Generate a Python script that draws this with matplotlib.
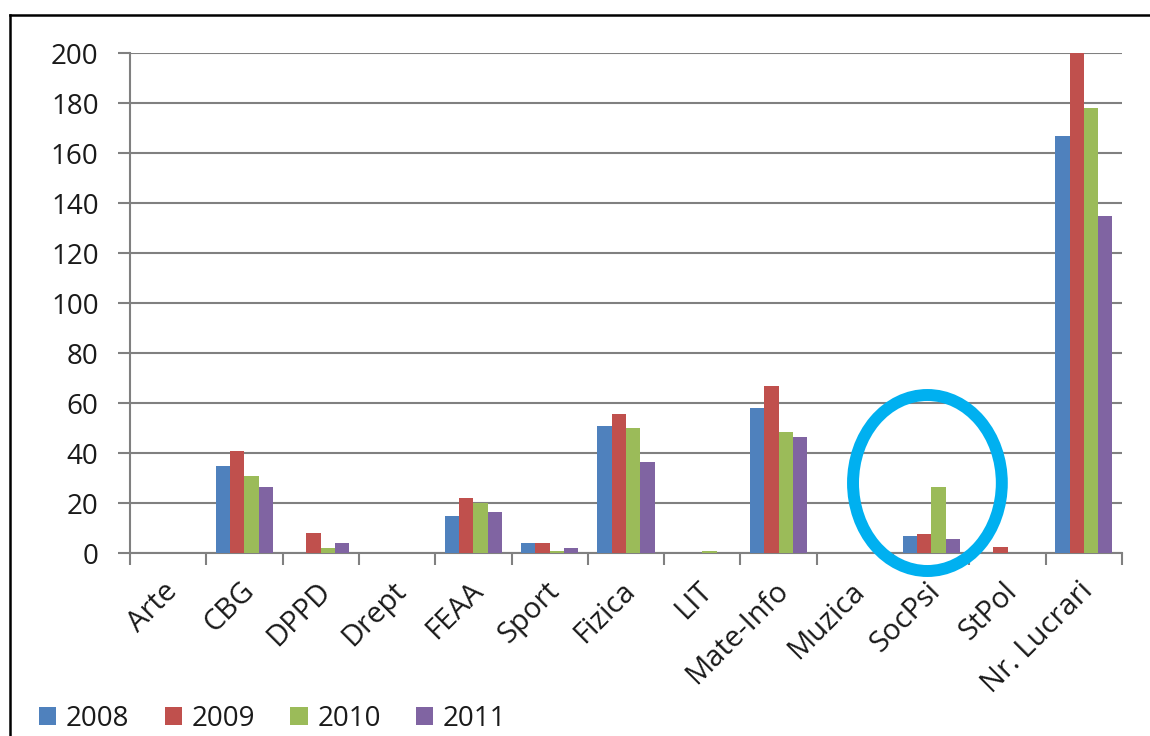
import matplotlib
matplotlib.use("Agg")
import matplotlib.pyplot as plt
import matplotlib.transforms as mtransforms
from matplotlib.patches import Ellipse
from matplotlib.lines import Line2D
import numpy as np

plt.rcParams['font.family'] = ['Open Sans', 'DejaVu Sans']

categories = ["Arte", "CBG", "DPPD", "Drept", "FEAA", "Sport", "Fizica", "LIT",
              "Mate-Info", "Muzica", "SocPsi", "StPol", "Nr. Lucrari"]
years = ["2008", "2009", "2010", "2011"]
v2008 = [0, 35, 0, 0, 15, 4, 51, 0, 58, 0, 7, 0, 167]
v2009 = [0, 41, 8, 0, 22, 4, 55.5, 0, 67, 0, 7.6, 2.3, 200]
v2010 = [0, 31, 2, 0, 20, 1, 50, 1, 48.5, 0, 26.5, 0, 178]
v2011 = [0, 26.5, 4, 0, 16.5, 2, 36.5, 0, 46.5, 0, 5.7, 0, 135]
series = [v2008, v2009, v2010, v2011]
colors = ["#4F81BD", "#C0504D", "#9BBB59", "#8064A2"]
yticks = [0, 20, 40, 60, 80, 100, 120, 140, 160, 180, 200]

W, H = 1150, 736
fig = plt.figure(figsize=(W / 100, H / 100), dpi=100)
ax = fig.add_axes([130 / W, 183 / H, 992 / W, 500 / H])

x = np.arange(len(categories))
bw = 0.1875
for i, (vals, c) in enumerate(zip(series, colors)):
    ax.bar(x + (i - 1.5) * bw, vals, width=bw, color=c, label=years[i], zorder=3)

ax.set_xlim(-0.5, len(categories) - 0.5)
ax.set_ylim(0, 200)
ax.set_yticks(yticks)
ax.yaxis.grid(True, color="#808080", linewidth=1.5, zorder=0)
ax.set_axisbelow(True)

grey = "#808080"
for s in ["top", "right"]:
    ax.spines[s].set_visible(False)
for s in ["left", "bottom"]:
    ax.spines[s].set_color(grey)
    ax.spines[s].set_linewidth(1.5)

txt = "#1a1a1a"
ax.tick_params(axis="y", direction="out", length=8.6, width=1.5, color=grey,
               labelsize=20, pad=14, labelcolor=txt)
ax.set_xticks(x)
ax.set_xticklabels(categories, rotation=45, ha="right", rotation_mode="anchor",
                   fontsize=21, color=txt)
ax.tick_params(axis="x", which="major", length=0, pad=17)
shift = mtransforms.ScaledTranslation(-5 / 100, 0, fig.dpi_scale_trans)
for lab in ax.get_xticklabels():
    lab.set_transform(lab.get_transform() + shift)
ax.set_xticks(np.arange(-0.5, len(categories), 1.0), minor=True)
ax.tick_params(axis="x", which="minor", direction="out", length=8.6, width=1.5, color=grey)

# highlight ring around SocPsi
ell = Ellipse((9.95, 28), width=1.95, height=70.4, fill=False,
              edgecolor="#00B0F0", linewidth=8.6, clip_on=False, zorder=5)
ax.add_patch(ell)

leg = fig.legend(loc="lower left", bbox_to_anchor=(14 / W, -22 / H), ncol=4,
                 frameon=False, fontsize=20, handlelength=0.62, handleheight=0.62,
                 handletextpad=0.35, columnspacing=1.27)
for t in leg.get_texts():
    t.set_color(txt)

# outer frame
fig.add_artist(Line2D([10 / W, 1.0], [1 - 15 / H, 1 - 15 / H], color="black",
                      linewidth=1.8, transform=fig.transFigure))
fig.add_artist(Line2D([10 / W, 10 / W], [0, 1 - 15 / H], color="black",
                      linewidth=1.8, transform=fig.transFigure))

fig.savefig("out.png", dpi=100)
